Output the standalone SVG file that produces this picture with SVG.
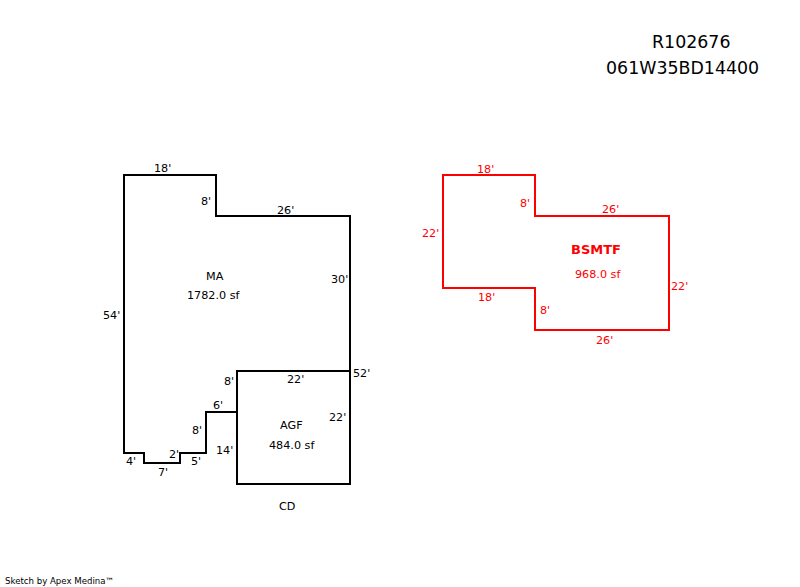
<svg xmlns="http://www.w3.org/2000/svg" width="800" height="587" viewBox="0 0 800 587">
<style>
text{font-family:"DejaVu Sans",Verdana,sans-serif;font-size:11.2px;fill:#000}
.r text{fill:#f00}
.outline{fill:none;stroke:#000;stroke-width:2}
.red{fill:none;stroke:#f00;stroke-width:2}
text.hd{font-size:17.4px}
</style>
<rect width="800" height="587" fill="#fff"/>
<g id="MA">
<path class="outline" d="M237 412H206V453H180V463H144V453H124V175H216V216H350V371"/>
<text x="154" y="172">18'</text><text x="201" y="205">8'</text><text x="277" y="214">26'</text><text x="331" y="283">30'</text><text x="103" y="319">54'</text>
<text x="206" y="280">MA</text><text x="187" y="299">1782.0 sf</text>
<text x="353" y="377">52'</text><text x="213" y="409">6'</text><text x="192" y="434">8'</text><text x="169" y="458">2'</text><text x="126" y="465">4'</text><text x="191" y="465">5'</text><text x="158" y="476">7'</text>
</g>
<g id="AGF">
<rect class="outline" x="237" y="371" width="113" height="113"/>
<text x="224" y="385">8'</text><text x="287" y="383">22'</text><text x="329" y="421">22'</text><text x="280" y="429">AGF</text><text x="269" y="449">484.0 sf</text><text x="216" y="454">14'</text><text x="279" y="510">CD</text>
</g>
<g id="BSMTF" class="r">
<path class="red" d="M443 175H535V216H669V330H535V288H443Z"/>
<text x="477" y="173">18'</text><text x="520" y="207">8'</text><text x="602" y="213">26'</text><text x="422" y="237">22'</text>
<text x="571" y="254" font-weight="bold" style="font-size:13px">BSMTF</text><text x="575" y="278">968.0 sf</text>
<text x="671" y="290">22'</text><text x="478" y="301">18'</text><text x="540" y="314">8'</text><text x="596" y="344">26'</text>
</g>
<g id="header">
<text class="hd" x="652" y="48">R102676</text><text class="hd" x="606" y="74">061W35BD14400</text>
</g>
<g id="footer"><text x="5" y="584" style="font-size:8.6px">Sketch by Apex Medina™</text></g>
<g id="connectors"></g>
</svg>
